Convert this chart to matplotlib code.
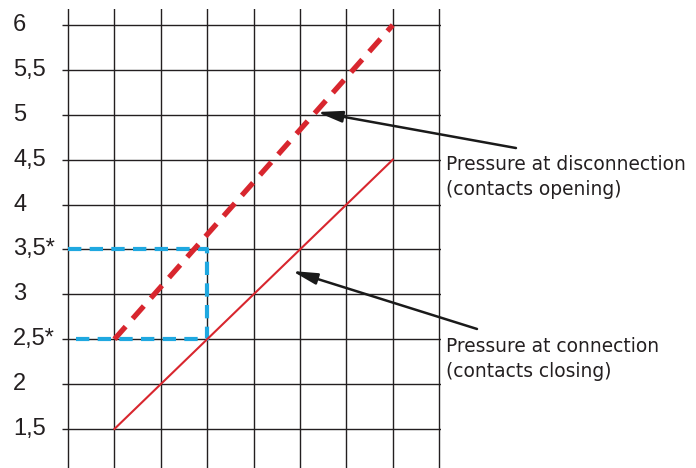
import matplotlib
matplotlib.use("Agg")
import matplotlib.pyplot as plt
from matplotlib.transforms import blended_transform_factory

# pressure scale on the left, x is just a grid of 8 cells (no labels)
y_ticks = [1.5, 2, 2.5, 3, 3.5, 4, 4.5, 5, 5.5, 6]
y_labels = ['1,5', '2', '2,5*', '3', '3,5*', '4', '4,5', '5', '5,5', '6']
x_grid = list(range(9))

# contacts closing (solid) / opening (dashed)
closing_x = [1, 7]
closing_y = [1.5, 4.5]
opening_x = [1, 7]
opening_y = [2.5, 6.0]

# blue setting window
window_x = [0, 3, 3, 0]
window_y = [3.5, 3.5, 2.5, 2.5]

RED = '#d8262e'
BLUE = '#1fa8e0'
GRID = '#231f20'

fig = plt.figure(figsize=(6.96, 4.68), dpi=100)
ax = fig.add_axes([62 / 696, 0, 379.5 / 696, 459 / 468])
ax.set_xlim(-0.13, 8.05)
ax.set_ylim(1.065, 6.179)
ax.axis('off')

# grid
for x in x_grid:
    ax.axvline(x, color=GRID, lw=1.0, zorder=1)
ax.hlines(y_ticks, -0.13, 8.05, color=GRID, lw=1.0, zorder=1)

# y labels, left aligned near figure edge
trans = blended_transform_factory(fig.transFigure, ax.transData)
for v, lab in zip(y_ticks, y_labels):
    ax.text(13 / 696, v, lab, transform=trans, ha='left', va='center',
            fontsize=17, family='Liberation Sans', color='#231f20')

# curves
ax.plot(window_x, window_y, color=BLUE, lw=3.0, dashes=(3.2, 2.0),
        dash_capstyle='butt', zorder=2)
ax.plot(closing_x, closing_y, color=RED, lw=1.5, zorder=3)
ax.plot(opening_x, opening_y, color=RED, lw=3.8, dashes=(3.2, 2.0),
        dash_capstyle='butt', zorder=4)

# arrows + labels
arrow = dict(arrowstyle='-|>,head_length=0.75,head_width=0.17', color='#1a1a1a',
             lw=1.8, shrinkA=0, shrinkB=0, mutation_scale=20)
ax.annotate('', xy=(5.366, 5.031), xytext=(9.655, 4.63),
            arrowprops=arrow, annotation_clip=False)
ax.annotate('', xy=(4.828, 3.26), xytext=(8.815, 2.614),
            arrowprops=arrow, annotation_clip=False)

txt = dict(fontsize=13.4, color='#231f20', ha='left', va='baseline', clip_on=False)
ax.text(8.147, 4.385, 'Pressure at disconnection', **txt)
ax.text(8.147, 4.107, '(contacts opening)', **txt)
ax.text(8.147, 2.357, 'Pressure at connection', **txt)
ax.text(8.147, 2.079, '(contacts closing)', **txt)

fig.savefig('out.png', dpi=100)
